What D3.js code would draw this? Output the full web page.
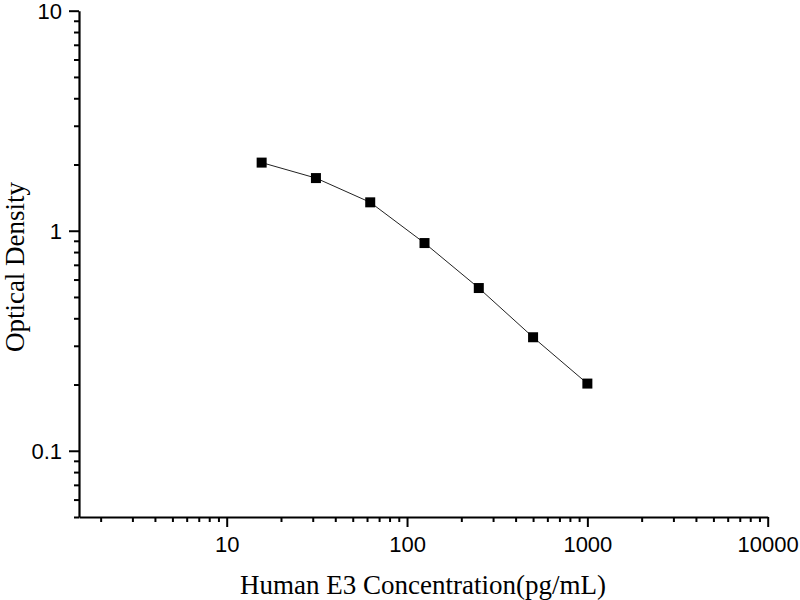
<!DOCTYPE html>
<html>
<head>
<meta charset="utf-8">
<script src="https://cdn.jsdelivr.net/npm/d3@7"></script>
<style>
  body { margin: 0; background: #fff; }
  svg { display: block; }
</style>
</head>
<body>
<div id="chart"></div>
<script>
// standard curve points
var concentration = [15.625, 31.25, 62.5, 125, 250, 500, 1000];
var density = [2.04, 1.735, 1.346, 0.879, 0.549, 0.328, 0.202];

var xTickLabels = [10, 100, 1000, 10000];
var yTickLabels = [0.1, 1, 10];

var width = 800, height = 600;

var svg = d3.select('#chart').append('svg')
    .attr('width', width)
    .attr('height', height);

var x = d3.scaleLog().domain([1.517, 10000]).range([79, 767.7]);
var y = d3.scaleLog().domain([0.05, 10]).range([517, 10.7]);

// minor ticks between decades
function minorTicks(lo, hi) {
  var out = [];
  for (var e = -3; e <= 4; e++) {
    for (var m = 2; m <= 9; m++) {
      var v = m * Math.pow(10, e);
      if (v >= lo && v <= hi) out.push(v);
    }
  }
  return out;
}

var xMinor = minorTicks(1.517, 10000);
var yMinor = minorTicks(0.05, 10);

// bottom axis
svg.append('g')
    .attr('transform', 'translate(0,517)')
    .call(d3.axisBottom(x).tickValues(xMinor).tickSize(5).tickFormat(''))
    .call(function (g) { g.select('.domain').remove(); });

var xAxis = svg.append('g')
    .attr('transform', 'translate(0,517)')
    .call(d3.axisBottom(x).tickValues(xTickLabels).tickSize(10).tickSizeOuter(0)
      .tickFormat(d3.format('d')));

// left axis
svg.append('g')
    .attr('transform', 'translate(79,0)')
    .call(d3.axisLeft(y).tickValues(yMinor).tickSize(5).tickFormat(''))
    .call(function (g) { g.select('.domain').remove(); });

var yAxis = svg.append('g')
    .attr('transform', 'translate(79,0)')
    .call(d3.axisLeft(y).tickValues(yTickLabels).tickSize(10).tickSizeOuter(0)
      .tickFormat(function (d) { return d < 1 ? d3.format('.1f')(d) : d3.format('d')(d); }));

svg.selectAll('.domain').attr('stroke', '#000').attr('stroke-width', 2.2);
svg.selectAll('.tick line').attr('stroke', '#000').attr('stroke-width', 2);
svg.selectAll('.tick text')
    .attr('fill', '#000')
    .style('font-family', '"Liberation Sans", Arial, sans-serif')
    .style('font-size', '22px');
xAxis.selectAll('.tick text').attr('y', 35).attr('dy', 0);
yAxis.selectAll('.tick text').attr('x', -17).attr('dy', '0.36em');

// line + square markers
var line = d3.line()
    .x(function (d, i) { return x(concentration[i]); })
    .y(function (d) { return y(d); });

svg.append('path')
    .datum(density)
    .attr('fill', 'none')
    .attr('stroke', '#222')
    .attr('stroke-width', 1)
    .attr('d', line);

svg.selectAll('rect.pt').data(density)
  .enter().append('rect')
    .attr('class', 'pt')
    .attr('x', function (d, i) { return x(concentration[i]) - 5; })
    .attr('y', function (d) { return y(d) - 5; })
    .attr('width', 10)
    .attr('height', 10)
    .attr('fill', '#000');

// axis titles
svg.append('text')
    .attr('x', 423)
    .attr('y', 594)
    .attr('text-anchor', 'middle')
    .style('font-family', '"Liberation Serif", "Times New Roman", serif')
    .style('font-size', '27px')
    .text('Human E3 Concentration(pg/mL)');

svg.append('text')
    .attr('transform', 'translate(24,267) rotate(-90)')
    .attr('text-anchor', 'middle')
    .style('font-family', '"Liberation Serif", "Times New Roman", serif')
    .style('font-size', '27px')
    .text('Optical Density');
</script>
</body>
</html>
